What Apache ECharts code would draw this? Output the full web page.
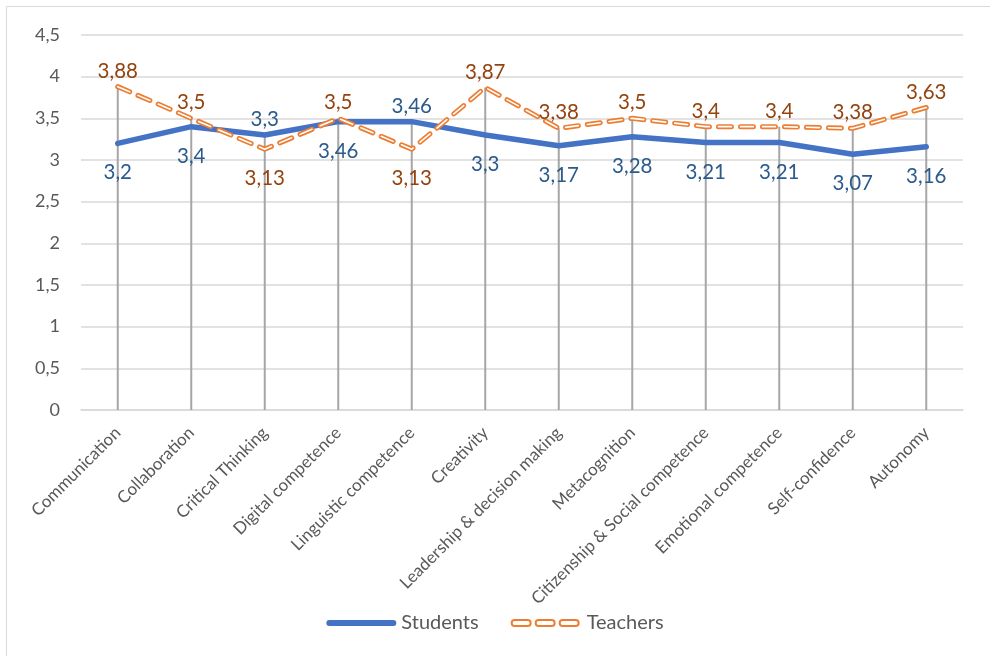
<!DOCTYPE html>
<html>
<head>
<meta charset="utf-8">
<script src="https://cdn.jsdelivr.net/npm/echarts@6/dist/echarts.min.js"></script>
<style>
  html, body { margin: 0; padding: 0; background: #fff; }
  #chart { width: 990px; height: 656px; }
</style>
</head>
<body>
<div id="chart"></div>
<script>
// Competence scores, students vs. teachers
const categories = [
  'Communication', 'Collaboration', 'Critical Thinking', 'Digital competence',
  'Linguistic competence', 'Creativity', 'Leadership & decision making',
  'Metacognition', 'Citizenship & Social competence', 'Emotional competence',
  'Self-confidence', 'Autonomy'
];
const students = [3.2, 3.4, 3.3, 3.46, 3.46, 3.3, 3.17, 3.28, 3.21, 3.21, 3.07, 3.16];
const teachers = [3.88, 3.5, 3.13, 3.5, 3.13, 3.87, 3.38, 3.5, 3.4, 3.4, 3.38, 3.63];
const yTicks = { min: 0, max: 4.5, interval: 0.5 };

const FONT = 'Lato, "Liberation Sans", sans-serif';
const BLUE = '#4472C4';
const ORANGE = '#ED7D31';
const BLUE_LABEL = '#2A5B8C';
const ORANGE_LABEL = '#94430F';
const GREY_TEXT = '#595959';

const comma = v => String(v).replace('.', ',');

// the higher value of each pair is labelled above, the lower one below
function labelled(values, other, color, isTeachers) {
  return values.map((v, i) => {
    const above = v > other[i] || (v === other[i] && isTeachers);
    return {
      value: v,
      label: {
        show: true,
        position: above ? 'top' : 'bottom',
        distance: above ? 5 : 19,
        color: color,
        fontSize: 20.5,
        fontFamily: FONT,
        formatter: p => comma(p.value)
      }
    };
  });
}

// drop lines: from the top point of each category down to the axis
const dropData = categories.map((c, i) => [i, Math.max(students[i], teachers[i])]);

const dashes = [13, 9];

const chart = echarts.init(document.getElementById('chart'), null, { renderer: 'canvas' });
chart.setOption({
  backgroundColor: '#fff',
  animation: false,
  graphic: [{
    type: 'rect',
    shape: { x: 6.5, y: 6.5, width: 1000, height: 700 },
    style: { fill: 'none', stroke: '#D9D9D9', lineWidth: 1 },
    silent: true, z: -10
  }],
  grid: { left: 81, right: 27, top: 35, bottom: 246 },
  xAxis: {
    type: 'category',
    data: categories,
    boundaryGap: true,
    axisLine: { show: true, lineStyle: { color: '#D9D9D9', width: 1.5 } },
    axisTick: { show: false },
    axisLabel: {
      interval: 0,
      rotate: 45,
      margin: 20,
      color: GREY_TEXT,
      fontSize: 17,
      fontFamily: FONT
    }
  },
  yAxis: {
    type: 'value',
    min: yTicks.min,
    max: yTicks.max,
    interval: yTicks.interval,
    axisLine: { show: false },
    axisTick: { show: false },
    splitLine: { lineStyle: { color: '#D9D9D9', width: 1.5 } },
    axisLabel: {
      margin: 21,
      color: GREY_TEXT,
      fontSize: 18,
      fontFamily: FONT,
      formatter: v => comma(v)
    }
  },
  legend: {
    bottom: 18,
    left: 'center',
    itemGap: 32,
    itemWidth: 70,
    itemHeight: 6,
    textStyle: { color: GREY_TEXT, fontSize: 20, fontFamily: FONT },
    data: [
      {
        name: 'Students',
        icon: 'path://M3,0 L67,0 A3,3 0 0 1 67,6 L3,6 A3,3 0 0 1 3,0 Z',
        itemStyle: { color: BLUE, borderWidth: 0 }
      },
      {
        name: 'Teachers',
        icon: 'path://M3,0 L16,0 A3,3 0 0 1 16,6 L3,6 A3,3 0 0 1 3,0 Z M27,0 L40,0 A3,3 0 0 1 40,6 L27,6 A3,3 0 0 1 27,0 Z M51,0 L64,0 A3,3 0 0 1 64,6 L51,6 A3,3 0 0 1 51,0 Z M70,0 L70,0.01 Z',
        itemStyle: { color: '#fff', borderColor: ORANGE, borderWidth: 2 }
      }
    ]
  },
  series: [
    {
      name: 'drop',
      type: 'custom',
      data: dropData,
      silent: true,
      z: 1,
      renderItem: (params, api) => {
        const top = api.coord([api.value(0), api.value(1)]);
        const base = api.coord([api.value(0), 0]);
        return {
          type: 'line',
          shape: { x1: top[0], y1: top[1], x2: base[0], y2: base[1] },
          style: { stroke: '#A6A6A6', lineWidth: 2 }
        };
      }
    },
    {
      name: 'Students',
      type: 'line',
      data: labelled(students, teachers, BLUE_LABEL, false),
      symbol: 'circle',
      symbolSize: 0.01,
      showAllSymbol: true,
      z: 3,
      lineStyle: { color: BLUE, width: 5.5, cap: 'round', join: 'round' },
      itemStyle: { color: BLUE }
    },
    {
      name: 'Teachers',
      type: 'line',
      data: labelled(teachers, students, ORANGE_LABEL, true),
      symbol: 'circle',
      symbolSize: 0.01,
      showAllSymbol: true,
      z: 4,
      lineStyle: { color: ORANGE, width: 5, type: dashes, cap: 'round', join: 'round' },
      itemStyle: { color: ORANGE }
    },
    {
      name: 'Teachers inner',
      type: 'line',
      data: teachers,
      symbol: 'none',
      silent: true,
      z: 5,
      lineStyle: { color: '#fff', width: 1.6, type: dashes, cap: 'round', join: 'round' },
      itemStyle: { color: '#fff' }
    }
  ]
});
</script>
</body>
</html>
